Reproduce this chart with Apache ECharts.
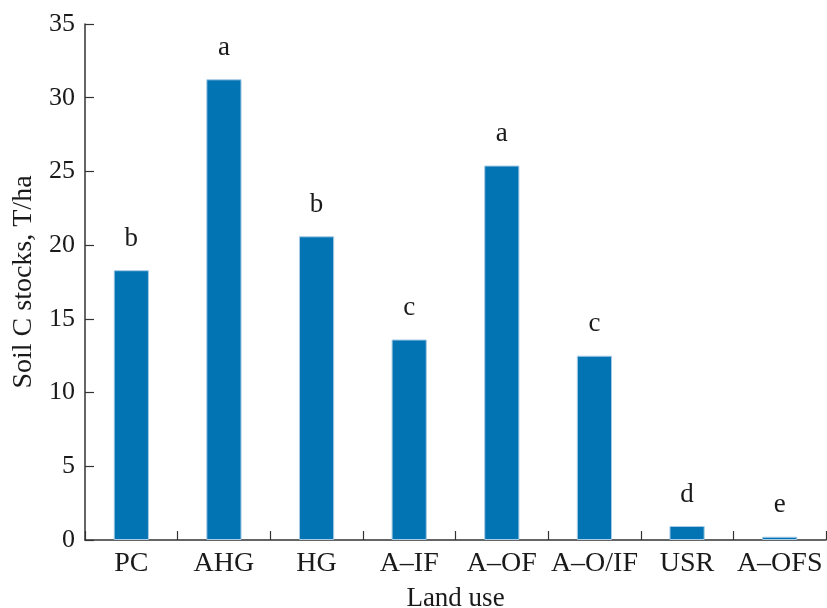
<!DOCTYPE html>
<html>
<head>
<meta charset="utf-8">
<script src="https://cdn.jsdelivr.net/npm/echarts@6/dist/echarts.min.js"></script>
<style>
  html, body { margin: 0; padding: 0; background: #fff; overflow: hidden; }
  #chart { width: 827px; height: 608px; position: absolute; left: 0; top: 0; }
</style>
</head>
<body>
<div id="chart"></div>
<script>
// Soil carbon stocks by land use, with significance-group letters
const landUses = ['PC', 'AHG', 'HG', 'A\u2013IF', 'A\u2013OF', 'A\u2013O/IF', 'USR', 'A\u2013OFS'];
const carbonStocks = [18.3, 31.25, 20.6, 13.6, 25.4, 12.5, 0.95, 0.22];
const groupLetters = ['b', 'a', 'b', 'c', 'a', 'c', 'd', 'e'];
const yTicks = { min: 0, max: 35, interval: 5 };

const serif = '"Liberation Serif", "Times New Roman", serif';
const ink = '#1a1a1a';

const chart = echarts.init(document.getElementById('chart'), null, { renderer: 'canvas', width: 827, height: 608 });
chart.setOption({
  animation: false,
  grid: { left: 85, right: 1, top: 24, bottom: 68, containLabel: false, outerBoundsMode: 'none' },
  xAxis: {
    type: 'category',
    data: landUses,
    name: 'Land use',
    nameLocation: 'middle',
    nameGap: 45,
    nameTextStyle: { fontFamily: serif, fontSize: 27, color: ink },
    axisLine: { lineStyle: { color: '#333', width: 1.5 } },
    axisTick: { show: true, inside: true, length: 9, alignWithLabel: false, lineStyle: { color: '#333', width: 1.2 } },
    axisLabel: { fontFamily: serif, fontSize: 28, color: ink, margin: 10, interval: 0 },
    splitLine: { show: false }
  },
  yAxis: {
    type: 'value',
    min: yTicks.min,
    max: yTicks.max,
    interval: yTicks.interval,
    name: 'Soil C stocks, T/ha',
    nameLocation: 'middle',
    nameGap: 47,
    nameTextStyle: { fontFamily: serif, fontSize: 28, color: ink },
    axisLine: { show: true, lineStyle: { color: '#333', width: 1.5 } },
    axisTick: { show: true, inside: true, length: 9, lineStyle: { color: '#333', width: 1.2 } },
    axisLabel: { fontFamily: serif, fontSize: 26, color: ink, margin: 10 },
    splitLine: { show: false }
  },
  series: [{
    type: 'bar',
    data: carbonStocks,
    barWidth: '38%',
    itemStyle: { color: '#0274b3', borderColor: '#a8cbe6', borderWidth: 1 },
    label: {
      show: true,
      position: 'top',
      distance: 18,
      fontFamily: serif,
      fontSize: 27,
      color: ink,
      formatter: (p) => groupLetters[p.dataIndex]
    }
  }]
});
</script>
</body>
</html>
